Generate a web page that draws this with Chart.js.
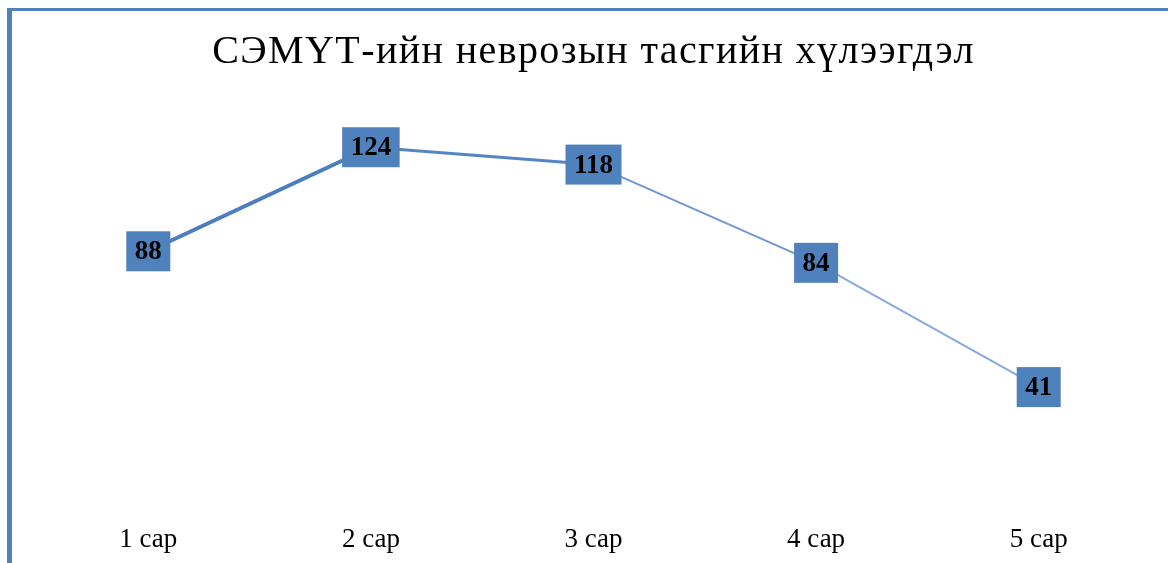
<!DOCTYPE html>
<html>
<head>
<meta charset="utf-8">
<script src="https://cdn.jsdelivr.net/npm/chart.js@4"></script>
<style>
  html, body { margin: 0; padding: 0; background: #fff; }
  #frame {
    position: absolute; left: 7px; top: 8px;
    width: 1156px; height: 552px;
    border-left: 5px solid #4F81BD;
    border-top: 3px solid #4F81BD;
  }
  #frame canvas { display: block; }
</style>
</head>
<body>
<div id="frame"><canvas id="waitChart" width="1156" height="552"></canvas></div>
<script>
const months = ['1 сар', '2 сар', '3 сар', '4 сар', '5 сар'];
const waiting = [88, 124, 118, 84, 41];
const chartTitle = 'СЭМҮТ-ийн неврозын тасгийн хүлээгдэл';

// the line gets thinner and lighter towards the right in the original
const segWidths = [4, 3, 2, 2];
const segColors = ['#4A7EC0', '#5585C4', '#6E98D4', '#86AADF'];

// only the title is letter-spaced; tick labels are drawn after the datasets
const spacingPlugin = {
  id: 'titleSpacing',
  beforeDraw(chart) { chart.ctx.letterSpacing = '1.4px'; },
  beforeDatasetsDraw(chart) { chart.ctx.letterSpacing = '0px'; }
};

const boxLabels = {
  id: 'boxLabels',
  afterDatasetsDraw(chart) {
    const ctx = chart.ctx;
    const meta = chart.getDatasetMeta(0);
    ctx.save();
    ctx.font = 'bold 27px "Liberation Serif"';
    ctx.textAlign = 'center';
    ctx.textBaseline = 'middle';
    meta.data.forEach((pt, i) => {
      const txt = String(waiting[i]);
      const w = ctx.measureText(txt).width + 17;
      const h = 40;
      ctx.fillStyle = '#4F81BD';
      ctx.fillRect(pt.x - w / 2, pt.y - h / 2, w, h);
      ctx.fillStyle = '#000';
      ctx.fillText(txt, pt.x, pt.y + 1);
    });
    ctx.restore();
  }
};

const ctx = document.getElementById('waitChart').getContext('2d');
new Chart(ctx, {
  type: 'line',
  data: {
    labels: months,
    datasets: [{
      data: waiting,
      borderColor: '#4F81BD',
      pointRadius: 0,
      tension: 0,
      segment: {
        borderWidth: c => segWidths[c.p0DataIndex],
        borderColor: c => segColors[c.p0DataIndex]
      }
    }]
  },
  options: {
    responsive: false,
    animation: false,
    layout: { padding: { left: 25, right: 18, top: 0, bottom: -3 } },
    plugins: {
      legend: { display: false },
      tooltip: { enabled: false },
      title: {
        display: true,
        text: chartTitle,
        color: '#000',
        font: { family: '"Liberation Serif"', size: 40, weight: 'normal' },
        padding: { top: 17, bottom: 25 }
      }
    },
    scales: {
      x: {
        offset: true,
        grid: { display: false },
        border: { display: false },
        ticks: {
          z: 1,
          color: '#000',
          padding: 10,
          font: { family: '"Liberation Serif"', size: 27 }
        }
      },
      y: {
        display: false,
        min: 0,
        max: 140
      }
    }
  },
  plugins: [spacingPlugin, boxLabels]
});
</script>
</body>
</html>
